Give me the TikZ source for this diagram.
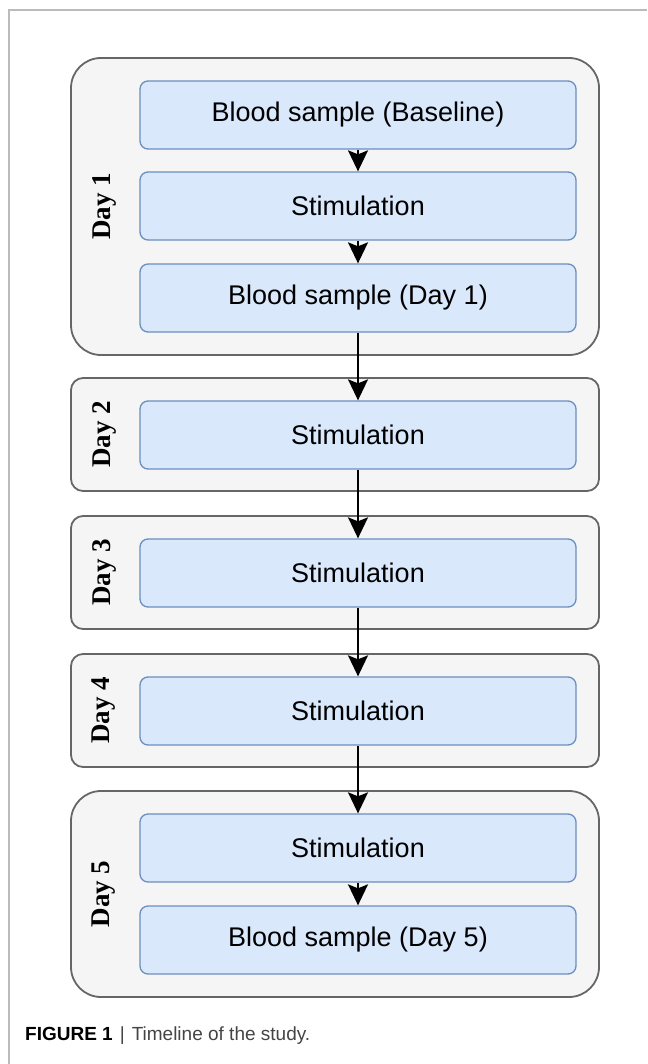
\documentclass[tikz,border=0pt]{standalone}
\usepackage{fontspec}
\setmainfont{Liberation Sans}
\newfontfamily\dayfont{Liberation Serif}
\usetikzlibrary{arrows.meta}
\definecolor{outerfill}{HTML}{F5F5F5}
\definecolor{outerdraw}{HTML}{666666}
\definecolor{innerfill}{HTML}{DAE8FC}
\definecolor{innerdraw}{HTML}{6C8EBF}
\definecolor{framegray}{HTML}{BBBBBB}
\definecolor{captiongray}{HTML}{444444}
\tikzset{
  outerbox/.style={draw=outerdraw, fill=outerfill, line width=1.8pt, minimum width=528pt, inner sep=0pt},
  innerbox/.style={draw=innerdraw, fill=innerfill, line width=1.3pt, minimum width=436pt, minimum height=68pt, rounded corners=8pt, inner sep=0pt, font=\fontsize{27}{31}\selectfont},
  daylabel/.style={rotate=90, font=\dayfont\bfseries\fontsize{27}{31}\selectfont},
  flow/.style={line width=1.8pt, -{Stealth[length=21pt,width=20pt,inset=4pt]}},
}
\begin{document}
\begin{tikzpicture}[x=1pt,y=-1pt]
\useasboundingbox (0,0) rectangle (647,1064);
\draw[framegray, line width=1.2pt] (9,1064) -- (9,10) -- (647,10);
% outer boxes
\node[outerbox, minimum height=297pt, rounded corners=30pt] (d1) at (335,206.5) {};
\node[outerbox, minimum height=113pt, rounded corners=12pt] (d2) at (335,434.5) {};
\node[outerbox, minimum height=113pt, rounded corners=12pt] (d3) at (335,572.5) {};
\node[outerbox, minimum height=113pt, rounded corners=12pt] (d4) at (335,710.5) {};
\node[outerbox, minimum height=206pt, rounded corners=30pt] (d5) at (335,894) {};
% day labels
\node[daylabel] (l1) at (104,206.5) {Day 1};
\node[daylabel] (l2) at (104,434.5) {Day 2};
\node[daylabel] (l3) at (104,572.5) {Day 3};
\node[daylabel] (l4) at (104,710.5) {Day 4};
\node[daylabel] (l5) at (104,894) {Day 5};
% inner boxes
\node[innerbox] (b1) at (358,115) {Blood sample (Baseline)};
\node[innerbox] (b2) at (358,206) {Stimulation};
\node[innerbox] (b3) at (358,298) {Blood sample (Day 1)};
\node[innerbox] (b4) at (358,435) {Stimulation};
\node[innerbox] (b5) at (358,573) {Stimulation};
\node[innerbox] (b6) at (358,711) {Stimulation};
\node[innerbox] (b7) at (358,848) {Stimulation};
\node[innerbox] (b8) at (358,940) {Blood sample (Day 5)};
% arrows
\draw[flow] (b1) -- (b2);
\draw[flow] (b2) -- (b3);
\draw[flow] (b3) -- (b4);
\draw[flow] (b4) -- (b5);
\draw[flow] (b5) -- (b6);
\draw[flow] (b6) -- (b7);
\draw[flow] (b7) -- (b8);
% caption
\node[anchor=base west, inner sep=0pt, font=\fontsize{19}{22}\selectfont] (cap) at (25,1040) {\textbf{FIGURE 1}\hspace{7pt}{\color{captiongray}|}\hspace{7pt}{\color{captiongray}Timeline of the study.}};
\end{tikzpicture}
\end{document}
